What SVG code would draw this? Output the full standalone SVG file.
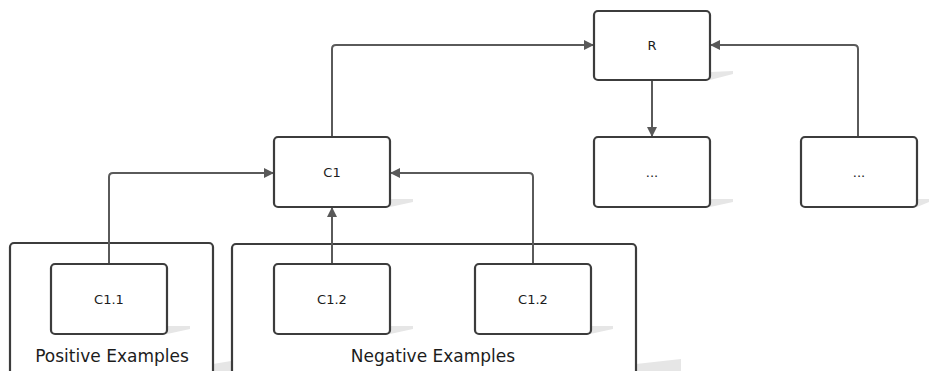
<svg xmlns="http://www.w3.org/2000/svg" width="929" height="371" viewBox="0 0 929 371">
  <defs>
    <marker id="arrow" viewBox="0 0 10 10" refX="10" refY="5" markerWidth="10" markerHeight="10" markerUnits="userSpaceOnUse" orient="auto">
      <path d="M0,0 L10,5 L0,10 z" fill="#595959"/>
    </marker>
    <style>
      .box { fill: #ffffff; stroke: #3c3c3c; stroke-width: 2.2; }
      .shadow { fill: #e6e6e6; stroke: none; }
      .edge { fill: none; stroke: #5a5a5a; stroke-width: 2; marker-end: url(#arrow); }
      .lbl { font-family: "DejaVu Sans", Verdana, sans-serif; font-size: 13px; fill: #1a1a1a; text-anchor: middle; dominant-baseline: central; opacity: 0.99; }
      .glbl { font-family: "DejaVu Sans", Verdana, sans-serif; font-size: 17px; fill: #1a1a1a; text-anchor: middle; opacity: 0.99; }
    </style>
  </defs>
  <rect width="929" height="371" fill="#ffffff"/>

  <!-- example groups -->
  <g id="positive-examples">
    <polygon class="shadow" points="213,364 231,361 231,371 213,371"/>
    <rect class="box" x="10" y="243" width="203" height="140" rx="4"/>
    <text class="glbl" x="112" y="362">Positive Examples</text>
  </g>
  <g id="negative-examples">
    <polygon class="shadow" points="636,364 681,359 681,371 636,371"/>
    <rect class="box" x="232" y="244" width="404" height="140" rx="4"/>
    <text class="glbl" x="433" y="362">Negative Examples</text>
  </g>

  <!-- connectors -->
  <g id="connectors">
    <path class="edge" d="M332,137 V49 Q332,45 336,45 H594"/>
    <path class="edge" d="M858,137 V49 Q858,45 854,45 H710"/>
    <path class="edge" d="M652,80 V137"/>
    <path class="edge" d="M109,264 V177 Q109,173 113,173 H274"/>
    <path class="edge" d="M533,264 V177 Q533,173 529,173 H390"/>
    <path class="edge" d="M332,264 V207"/>
  </g>

  <!-- nodes -->
  <g id="node-r">
    <polygon class="shadow" points="710,72 733,71 733,74 710,80"/>
    <rect class="box" x="594" y="11" width="116" height="69" rx="4"/>
    <text class="lbl" x="652" y="45.5">R</text>
  </g>
  <g id="node-c1">
    <polygon class="shadow" points="390,199 413,199 413,202 390,207"/>
    <rect class="box" x="274" y="137" width="116" height="70" rx="4"/>
    <text class="lbl" x="332" y="172">C1</text>
  </g>
  <g id="node-more-1">
    <polygon class="shadow" points="710,199 733,199 733,202 710,207"/>
    <rect class="box" x="594" y="137" width="116" height="70" rx="4"/>
    <text class="lbl" x="652" y="172">...</text>
  </g>
  <g id="node-more-2">
    <polygon class="shadow" points="917,199 929,199 929,202 917,207"/>
    <rect class="box" x="801" y="137" width="116" height="70" rx="4"/>
    <text class="lbl" x="859" y="172">...</text>
  </g>
  <g id="node-c1-1">
    <polygon class="shadow" points="167,326 190,326 190,329 167,334"/>
    <rect class="box" x="51" y="264" width="116" height="70" rx="4"/>
    <text class="lbl" x="109" y="299">C1.1</text>
  </g>
  <g id="node-c1-2a">
    <polygon class="shadow" points="390,326 413,326 413,329 390,334"/>
    <rect class="box" x="274" y="264" width="116" height="70" rx="4"/>
    <text class="lbl" x="332" y="299">C1.2</text>
  </g>
  <g id="node-c1-2b">
    <polygon class="shadow" points="590,326 613,326 613,329 590,334"/>
    <rect class="box" x="475" y="264" width="116" height="70" rx="4"/>
    <text class="lbl" x="533" y="299">C1.2</text>
  </g>
</svg>
